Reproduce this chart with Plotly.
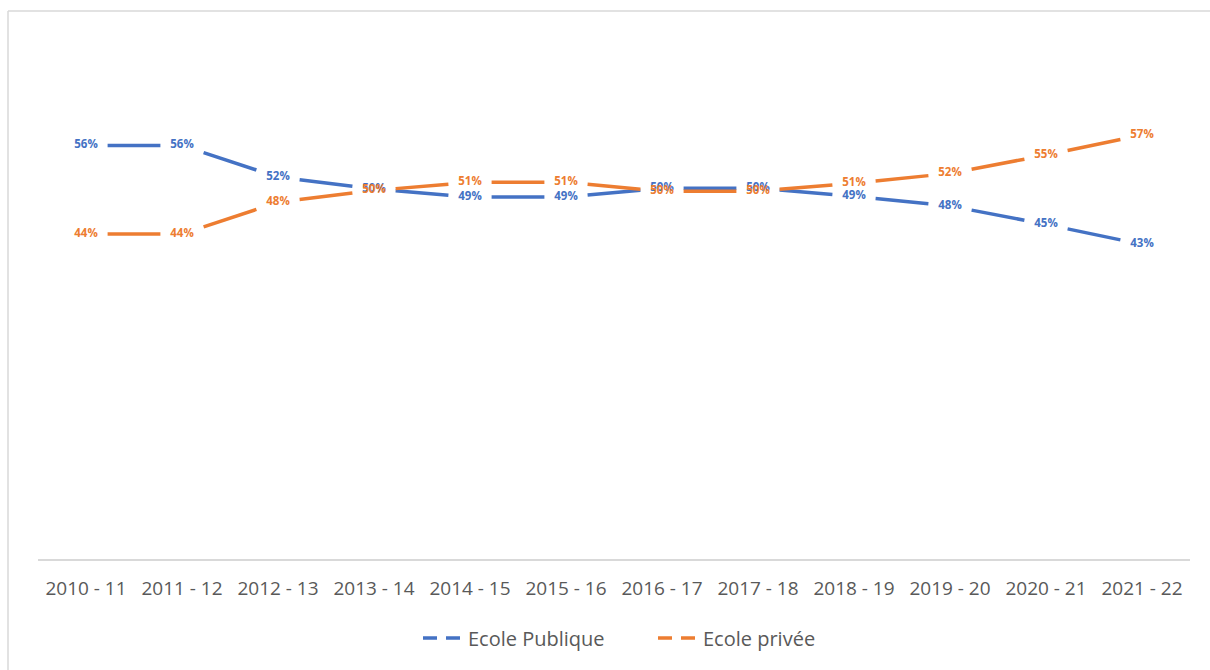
import plotly.graph_objects as go

# School years and share of pupils per sector
years = ["2010 - 11", "2011 - 12", "2012 - 13", "2013 - 14", "2014 - 15", "2015 - 16",
         "2016 - 17", "2017 - 18", "2018 - 19", "2019 - 20", "2020 - 21", "2021 - 22"]
publique = [0.560, 0.560, 0.517, 0.501, 0.490, 0.490, 0.502, 0.502, 0.491, 0.478, 0.453, 0.426]
privee = [0.440, 0.440, 0.483, 0.499, 0.510, 0.510, 0.498, 0.498, 0.509, 0.522, 0.547, 0.574]

BLUE = "#4472C4"
ORANGE = "#ED7D31"
GREY_TEXT = "#595959"
FONT = "Open Sans, Lato, sans-serif"

# fraction of each segment left empty at both ends so the labels stay clear
GAP = 0.225

fig = go.Figure()


def add_series(name, values, color):
    xs, ys = [], []
    for i in range(len(values) - 1):
        y0, y1 = values[i], values[i + 1]
        xs += [i + GAP, i + 1 - GAP, None]
        ys += [y0 + GAP * (y1 - y0), y1 - GAP * (y1 - y0), None]
    fig.add_trace(go.Scatter(
        x=xs, y=ys, mode="lines", showlegend=False, hoverinfo="skip",
        line=dict(color=color, width=3.5),
    ))
    # value labels centred on each point
    fig.add_trace(go.Scatter(
        x=list(range(len(values))), y=values, mode="text",
        texttemplate="%{y:.0%}", textposition="middle center",
        textfont=dict(family=FONT, size=11.5, color=color, weight="bold"),
        showlegend=False, hoverinfo="skip",
    ))
    # legend entry with a dashed swatch
    fig.add_trace(go.Scatter(
        x=[None], y=[None], mode="lines", name=name,
        line=dict(color=color, width=3.5, dash="14px,9px"),
    ))


add_series("Ecole Publique", publique, BLUE)
add_series("Ecole privée", privee, ORANGE)

L, R, T, B = 38, 20, 42, 111
W, H = 1210, 670
pw, ph = W - L - R, H - T - B

# outer chart frame (left and top edges)
fx0 = (8 - L) / pw
fy1 = 1 + (T - 11) / ph
fig.add_shape(type="line", xref="paper", yref="paper", x0=fx0, x1=fx0, y0=-B / ph, y1=fy1,
              line=dict(color="#D9D9D9", width=1.5), layer="below")
fig.add_shape(type="line", xref="paper", yref="paper", x0=fx0, x1=(W - L) / pw, y0=fy1, y1=fy1,
              line=dict(color="#D9D9D9", width=1.5), layer="below")

fig.update_layout(
    width=W, height=H,
    margin=dict(l=L, r=R, t=T, b=B),
    paper_bgcolor="white", plot_bgcolor="white",
    font=dict(family=FONT, color=GREY_TEXT),
    xaxis=dict(
        range=[-0.5, len(years) - 0.5],
        tickmode="array", tickvals=list(range(len(years))), ticktext=years,
        showgrid=False, zeroline=False, ticks="",
        showline=True, linecolor="#D9D9D9", linewidth=1.5,
        tickfont=dict(family=FONT, size=19, color=GREY_TEXT),
        ticklabelstandoff=11,
    ),
    yaxis=dict(range=[0, 0.7], visible=False, showgrid=False, zeroline=False),
    legend=dict(
        orientation="h", x=(418 - L) / pw, xanchor="left",
        y=-(638 - (T + ph)) / ph, yanchor="middle",
        font=dict(family=FONT, size=20, color=GREY_TEXT),
        bgcolor="rgba(0,0,0,0)", itemwidth=40, entrywidth=180,
    ),
)

fig.write_html("out.html")
